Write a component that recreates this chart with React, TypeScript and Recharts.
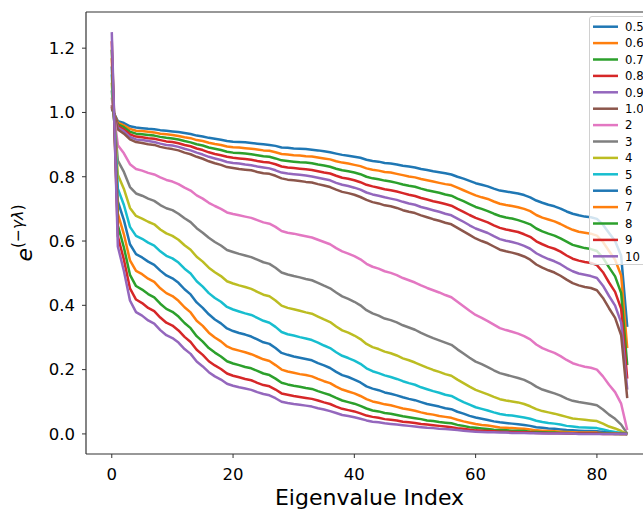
import React from 'react';
import { LineChart, Line, XAxis, YAxis, ReferenceLine } from 'recharts';

const seriesNames = ['0.5', '0.6', '0.7', '0.8', '0.9', '1.0', '2', '3', '4', '5', '6', '7', '8', '9', '10'];
const seriesColors = ['#1f77b4', '#ff7f0e', '#2ca02c', '#d62728', '#9467bd', '#8c564b', '#e377c2', '#7f7f7f', '#bcbd22', '#17becf', '#1f77b4', '#ff7f0e', '#2ca02c', '#d62728', '#9467bd'];
const xTicks = [0, 20, 40, 60, 80];
const yTicks = [0, 0.2, 0.4, 0.6, 0.8, 1.0, 1.2];

const g05 = [1.011, 0.973, 0.967, 0.957, 0.953, 0.951, 0.949, 0.948, 0.945, 0.943, 0.941, 0.939, 0.936, 0.933, 0.928, 0.925, 0.921, 0.918, 0.915, 0.911, 0.909, 0.908, 0.907, 0.905, 0.903, 0.901, 0.899, 0.896, 0.891, 0.890, 0.888, 0.887, 0.886, 0.884, 0.882, 0.879, 0.876, 0.872, 0.868, 0.865, 0.862, 0.859, 0.853, 0.849, 0.847, 0.843, 0.841, 0.838, 0.834, 0.832, 0.829, 0.824, 0.821, 0.817, 0.814, 0.811, 0.807, 0.800, 0.794, 0.787, 0.780, 0.775, 0.770, 0.763, 0.757, 0.754, 0.751, 0.748, 0.743, 0.736, 0.726, 0.719, 0.713, 0.708, 0.701, 0.692, 0.685, 0.680, 0.676, 0.674, 0.669, 0.651, 0.625, 0.600, 0.554, 0.333];
const g06 = [1.014, 0.968, 0.960, 0.949, 0.943, 0.942, 0.940, 0.938, 0.934, 0.932, 0.930, 0.927, 0.923, 0.920, 0.914, 0.911, 0.906, 0.902, 0.899, 0.894, 0.892, 0.891, 0.889, 0.887, 0.885, 0.882, 0.881, 0.876, 0.871, 0.869, 0.867, 0.866, 0.864, 0.863, 0.860, 0.857, 0.854, 0.848, 0.844, 0.841, 0.837, 0.833, 0.826, 0.822, 0.819, 0.815, 0.813, 0.809, 0.805, 0.801, 0.798, 0.793, 0.789, 0.785, 0.781, 0.777, 0.774, 0.766, 0.758, 0.750, 0.742, 0.736, 0.731, 0.723, 0.716, 0.712, 0.709, 0.705, 0.700, 0.693, 0.681, 0.673, 0.667, 0.661, 0.653, 0.643, 0.635, 0.629, 0.626, 0.623, 0.617, 0.597, 0.569, 0.542, 0.493, 0.267];
const g07 = [1.016, 0.963, 0.954, 0.940, 0.934, 0.932, 0.930, 0.928, 0.924, 0.921, 0.919, 0.916, 0.911, 0.907, 0.901, 0.897, 0.891, 0.887, 0.883, 0.878, 0.875, 0.874, 0.872, 0.870, 0.867, 0.864, 0.862, 0.857, 0.851, 0.849, 0.847, 0.845, 0.844, 0.842, 0.838, 0.835, 0.831, 0.825, 0.820, 0.817, 0.813, 0.808, 0.800, 0.795, 0.792, 0.788, 0.785, 0.781, 0.776, 0.772, 0.769, 0.763, 0.758, 0.754, 0.750, 0.745, 0.741, 0.732, 0.724, 0.715, 0.706, 0.700, 0.693, 0.685, 0.678, 0.673, 0.670, 0.665, 0.659, 0.652, 0.639, 0.630, 0.623, 0.617, 0.608, 0.598, 0.588, 0.583, 0.578, 0.575, 0.569, 0.548, 0.518, 0.490, 0.438, 0.214];
const g08 = [1.018, 0.958, 0.947, 0.932, 0.925, 0.923, 0.920, 0.918, 0.914, 0.910, 0.908, 0.904, 0.899, 0.895, 0.888, 0.883, 0.876, 0.871, 0.867, 0.862, 0.859, 0.857, 0.855, 0.853, 0.849, 0.846, 0.844, 0.839, 0.832, 0.829, 0.827, 0.825, 0.823, 0.821, 0.817, 0.813, 0.810, 0.803, 0.797, 0.794, 0.789, 0.783, 0.775, 0.770, 0.766, 0.761, 0.758, 0.754, 0.749, 0.744, 0.740, 0.734, 0.729, 0.724, 0.720, 0.715, 0.710, 0.700, 0.691, 0.681, 0.672, 0.665, 0.658, 0.649, 0.641, 0.636, 0.632, 0.628, 0.621, 0.613, 0.599, 0.590, 0.582, 0.576, 0.567, 0.555, 0.545, 0.539, 0.535, 0.532, 0.525, 0.503, 0.471, 0.442, 0.389, 0.172];
const g09 = [1.020, 0.953, 0.941, 0.924, 0.916, 0.914, 0.911, 0.908, 0.903, 0.899, 0.897, 0.893, 0.887, 0.882, 0.875, 0.869, 0.862, 0.857, 0.852, 0.846, 0.843, 0.841, 0.838, 0.836, 0.832, 0.829, 0.826, 0.820, 0.813, 0.810, 0.808, 0.806, 0.804, 0.801, 0.797, 0.793, 0.789, 0.781, 0.775, 0.771, 0.766, 0.760, 0.751, 0.745, 0.741, 0.736, 0.732, 0.728, 0.722, 0.717, 0.713, 0.706, 0.701, 0.696, 0.691, 0.685, 0.680, 0.670, 0.660, 0.649, 0.639, 0.632, 0.625, 0.615, 0.606, 0.601, 0.597, 0.592, 0.585, 0.576, 0.562, 0.552, 0.544, 0.537, 0.528, 0.516, 0.506, 0.499, 0.495, 0.491, 0.485, 0.461, 0.429, 0.399, 0.346, 0.138];
const g10a = [1.023, 0.947, 0.934, 0.916, 0.908, 0.905, 0.901, 0.899, 0.893, 0.889, 0.886, 0.882, 0.875, 0.870, 0.862, 0.856, 0.848, 0.842, 0.837, 0.830, 0.827, 0.824, 0.822, 0.820, 0.815, 0.811, 0.809, 0.803, 0.795, 0.791, 0.789, 0.787, 0.784, 0.782, 0.777, 0.773, 0.768, 0.760, 0.753, 0.749, 0.744, 0.737, 0.728, 0.721, 0.717, 0.711, 0.708, 0.703, 0.696, 0.691, 0.687, 0.680, 0.674, 0.668, 0.663, 0.657, 0.652, 0.641, 0.630, 0.619, 0.608, 0.600, 0.593, 0.583, 0.573, 0.568, 0.564, 0.559, 0.552, 0.542, 0.527, 0.517, 0.509, 0.502, 0.492, 0.480, 0.469, 0.462, 0.457, 0.454, 0.447, 0.423, 0.391, 0.361, 0.307, 0.111];
const g2 = [1.046, 0.898, 0.873, 0.839, 0.824, 0.819, 0.812, 0.807, 0.798, 0.790, 0.785, 0.777, 0.766, 0.757, 0.742, 0.732, 0.719, 0.709, 0.700, 0.689, 0.684, 0.680, 0.676, 0.672, 0.665, 0.658, 0.654, 0.644, 0.631, 0.626, 0.623, 0.619, 0.615, 0.611, 0.604, 0.597, 0.590, 0.578, 0.568, 0.561, 0.553, 0.543, 0.529, 0.520, 0.514, 0.506, 0.501, 0.494, 0.485, 0.478, 0.471, 0.462, 0.454, 0.447, 0.440, 0.432, 0.425, 0.411, 0.397, 0.383, 0.370, 0.361, 0.351, 0.340, 0.329, 0.323, 0.318, 0.312, 0.304, 0.294, 0.278, 0.267, 0.259, 0.252, 0.242, 0.230, 0.220, 0.214, 0.209, 0.206, 0.200, 0.179, 0.153, 0.130, 0.094, 0.012];
const g3 = [1.069, 0.850, 0.815, 0.768, 0.748, 0.741, 0.732, 0.725, 0.712, 0.702, 0.696, 0.685, 0.671, 0.659, 0.640, 0.626, 0.610, 0.597, 0.586, 0.572, 0.566, 0.560, 0.555, 0.550, 0.542, 0.534, 0.529, 0.517, 0.502, 0.496, 0.491, 0.487, 0.482, 0.478, 0.470, 0.461, 0.453, 0.440, 0.428, 0.420, 0.411, 0.400, 0.385, 0.375, 0.368, 0.359, 0.354, 0.347, 0.338, 0.331, 0.324, 0.314, 0.306, 0.298, 0.291, 0.284, 0.277, 0.263, 0.250, 0.237, 0.225, 0.217, 0.208, 0.198, 0.189, 0.184, 0.179, 0.174, 0.168, 0.159, 0.147, 0.138, 0.132, 0.126, 0.119, 0.110, 0.103, 0.099, 0.096, 0.093, 0.089, 0.076, 0.060, 0.047, 0.029, 0.001];
const g4 = [1.093, 0.806, 0.762, 0.703, 0.678, 0.670, 0.660, 0.652, 0.636, 0.624, 0.616, 0.604, 0.587, 0.573, 0.551, 0.536, 0.517, 0.503, 0.491, 0.475, 0.468, 0.462, 0.457, 0.451, 0.442, 0.433, 0.428, 0.415, 0.399, 0.392, 0.388, 0.383, 0.378, 0.374, 0.365, 0.356, 0.348, 0.334, 0.322, 0.315, 0.306, 0.295, 0.280, 0.270, 0.264, 0.256, 0.251, 0.244, 0.235, 0.229, 0.222, 0.214, 0.206, 0.199, 0.193, 0.186, 0.181, 0.169, 0.158, 0.147, 0.137, 0.130, 0.123, 0.115, 0.108, 0.104, 0.101, 0.098, 0.093, 0.086, 0.077, 0.071, 0.067, 0.063, 0.058, 0.053, 0.048, 0.046, 0.044, 0.042, 0.040, 0.032, 0.023, 0.017, 0.009, 0.000];
const g5 = [1.118, 0.763, 0.712, 0.644, 0.616, 0.607, 0.595, 0.586, 0.568, 0.554, 0.546, 0.533, 0.514, 0.499, 0.475, 0.458, 0.438, 0.423, 0.411, 0.395, 0.387, 0.381, 0.375, 0.370, 0.361, 0.352, 0.346, 0.333, 0.317, 0.310, 0.306, 0.301, 0.297, 0.292, 0.284, 0.275, 0.267, 0.254, 0.243, 0.236, 0.228, 0.218, 0.204, 0.195, 0.189, 0.182, 0.177, 0.171, 0.164, 0.158, 0.153, 0.145, 0.139, 0.133, 0.128, 0.122, 0.118, 0.108, 0.099, 0.091, 0.083, 0.078, 0.073, 0.067, 0.062, 0.059, 0.057, 0.054, 0.051, 0.047, 0.041, 0.037, 0.034, 0.032, 0.029, 0.025, 0.023, 0.021, 0.020, 0.019, 0.018, 0.014, 0.009, 0.006, 0.003, 0.000];
const g6 = [1.143, 0.723, 0.665, 0.590, 0.559, 0.549, 0.536, 0.526, 0.508, 0.493, 0.484, 0.470, 0.450, 0.434, 0.409, 0.392, 0.372, 0.356, 0.344, 0.328, 0.320, 0.314, 0.309, 0.303, 0.294, 0.285, 0.280, 0.267, 0.252, 0.246, 0.241, 0.237, 0.233, 0.229, 0.220, 0.213, 0.205, 0.193, 0.183, 0.177, 0.169, 0.160, 0.148, 0.141, 0.136, 0.129, 0.125, 0.120, 0.114, 0.109, 0.105, 0.099, 0.093, 0.089, 0.085, 0.080, 0.077, 0.069, 0.063, 0.056, 0.051, 0.047, 0.043, 0.039, 0.036, 0.034, 0.032, 0.030, 0.028, 0.025, 0.021, 0.019, 0.017, 0.016, 0.014, 0.012, 0.011, 0.010, 0.009, 0.009, 0.008, 0.006, 0.004, 0.002, 0.001, 0.000];
const g7 = [1.169, 0.685, 0.621, 0.540, 0.507, 0.497, 0.483, 0.473, 0.453, 0.438, 0.429, 0.414, 0.394, 0.378, 0.352, 0.336, 0.315, 0.300, 0.288, 0.272, 0.264, 0.259, 0.254, 0.248, 0.240, 0.232, 0.227, 0.214, 0.200, 0.194, 0.190, 0.186, 0.183, 0.179, 0.171, 0.164, 0.158, 0.147, 0.138, 0.132, 0.126, 0.118, 0.108, 0.101, 0.097, 0.092, 0.089, 0.084, 0.079, 0.076, 0.072, 0.067, 0.063, 0.060, 0.056, 0.053, 0.050, 0.044, 0.039, 0.035, 0.031, 0.028, 0.026, 0.023, 0.020, 0.019, 0.018, 0.017, 0.016, 0.014, 0.011, 0.010, 0.009, 0.008, 0.007, 0.006, 0.005, 0.004, 0.004, 0.004, 0.004, 0.002, 0.001, 0.001, 0.000, 0.000];
const g8 = [1.195, 0.649, 0.580, 0.495, 0.460, 0.449, 0.435, 0.425, 0.405, 0.389, 0.380, 0.365, 0.345, 0.329, 0.304, 0.287, 0.267, 0.253, 0.241, 0.226, 0.219, 0.214, 0.208, 0.204, 0.196, 0.188, 0.183, 0.172, 0.159, 0.154, 0.150, 0.147, 0.143, 0.140, 0.133, 0.127, 0.121, 0.112, 0.104, 0.099, 0.094, 0.087, 0.079, 0.073, 0.070, 0.065, 0.063, 0.059, 0.055, 0.052, 0.049, 0.046, 0.042, 0.040, 0.037, 0.035, 0.033, 0.028, 0.025, 0.021, 0.019, 0.017, 0.015, 0.013, 0.012, 0.011, 0.010, 0.010, 0.009, 0.007, 0.006, 0.005, 0.004, 0.004, 0.003, 0.003, 0.002, 0.002, 0.002, 0.002, 0.002, 0.001, 0.001, 0.000, 0.000, 0.000];
const g9 = [1.222, 0.615, 0.542, 0.453, 0.418, 0.407, 0.392, 0.382, 0.362, 0.346, 0.337, 0.322, 0.302, 0.286, 0.262, 0.246, 0.226, 0.213, 0.202, 0.188, 0.181, 0.176, 0.171, 0.167, 0.159, 0.152, 0.148, 0.138, 0.126, 0.122, 0.118, 0.115, 0.112, 0.109, 0.104, 0.098, 0.093, 0.085, 0.078, 0.074, 0.070, 0.064, 0.057, 0.053, 0.050, 0.046, 0.044, 0.042, 0.038, 0.036, 0.034, 0.031, 0.029, 0.027, 0.025, 0.023, 0.021, 0.018, 0.016, 0.013, 0.011, 0.010, 0.009, 0.008, 0.007, 0.006, 0.006, 0.005, 0.005, 0.004, 0.003, 0.003, 0.002, 0.002, 0.002, 0.001, 0.001, 0.001, 0.001, 0.001, 0.001, 0.000, 0.000, 0.000, 0.000, 0.000];
const g10 = [1.250, 0.583, 0.507, 0.415, 0.379, 0.368, 0.353, 0.343, 0.323, 0.307, 0.298, 0.284, 0.264, 0.249, 0.225, 0.210, 0.192, 0.179, 0.169, 0.156, 0.150, 0.145, 0.141, 0.137, 0.130, 0.124, 0.120, 0.111, 0.100, 0.096, 0.093, 0.091, 0.088, 0.085, 0.080, 0.076, 0.071, 0.065, 0.059, 0.056, 0.052, 0.047, 0.042, 0.038, 0.036, 0.033, 0.031, 0.029, 0.027, 0.025, 0.023, 0.021, 0.019, 0.018, 0.016, 0.015, 0.014, 0.012, 0.010, 0.008, 0.007, 0.006, 0.005, 0.005, 0.004, 0.004, 0.003, 0.003, 0.003, 0.002, 0.002, 0.001, 0.001, 0.001, 0.001, 0.001, 0.001, 0.000, 0.000, 0.000, 0.000, 0.000, 0.000, 0.000, 0.000, 0.000];

const seriesValues = [g05, g06, g07, g08, g09, g10a, g2, g3, g4, g5, g6, g7, g8, g9, g10];

const data = g05.map((_, i) => {
  const row: Record<string, number> = { index: i };
  seriesValues.forEach((arr, k) => {
    row['s' + k] = arr[i];
  });
  return row;
});

const FONT = 'DejaVu Sans, sans-serif';
const AXIS = '#333';

const YLabel = (props: any) => {
  const vb = props.viewBox || {};
  const cy = (vb.y || 0) + (vb.height || 0) / 2;
  const bx = 32;
  return (
    <text
      x={bx}
      y={cy}
      transform={`rotate(-90, ${bx}, ${cy})`}
      textAnchor="middle"
      fontFamily={FONT}
      fill="#000"
      fontSize={22}
    >
      <tspan fontStyle="italic">e</tspan>
      <tspan fontSize={15.5} dy={-9}>(−</tspan>
      <tspan fontSize={15.5} fontStyle="italic">γλ</tspan>
      <tspan fontSize={15.5}>)</tspan>
    </text>
  );
};

const XLabel = (props: any) => {
  const vb = props.viewBox || {};
  const cx = (vb.x || 0) + (vb.width || 0) / 2;
  return (
    <text x={cx} y={505} textAnchor="middle" fontFamily={FONT} fontSize={22} fill="#000">
      Eigenvalue Index
    </text>
  );
};

export default function App() {
  return (
    <div style={{ position: 'absolute', left: 0, top: 0, width: 643, height: 511, overflow: 'hidden', background: '#fff' }}>
      <LineChart width={660} height={511} data={data} margin={{ top: 12, right: 7, bottom: 0, left: 0 }}>
        <XAxis
          type="number"
          dataKey="index"
          domain={[-4.25, 89.25]}
          ticks={xTicks}
          height={57}
          tickSize={4}
          tickMargin={10}
          stroke={AXIS}
          axisLine={{ stroke: AXIS, strokeWidth: 1.2 }}
          tickLine={{ stroke: AXIS, strokeWidth: 1 }}
          tick={{ fill: '#000', fontSize: 16.5, fontFamily: FONT }}
          label={<XLabel />}
        />
        <YAxis
          type="number"
          domain={[-0.0625, 1.3125]}
          ticks={yTicks}
          width={86}
          tickSize={4}
          tickMargin={7}
          tickFormatter={(v: number) => v.toFixed(1)}
          axisLine={{ stroke: AXIS, strokeWidth: 1.2 }}
          tickLine={{ stroke: AXIS, strokeWidth: 1 }}
          tick={{ fill: '#000', fontSize: 16.5, fontFamily: FONT }}
          label={<YLabel />}
        />
        <ReferenceLine y={1.3125} stroke={AXIS} strokeWidth={1.2} />
        {seriesNames.map((name, k) => (
          <Line
            key={name}
            type="linear"
            dataKey={'s' + k}
            name={name}
            stroke={seriesColors[k]}
            strokeWidth={2.5}
            dot={false}
            activeDot={false}
            isAnimationActive={false}
            strokeLinejoin="round"
          />
        ))}
      </LineChart>
      <div
        style={{
          position: 'absolute',
          left: 589,
          top: 16,
          width: 80,
          height: 249,
          boxSizing: 'border-box',
          border: '1px solid #d0d0d0',
          borderRadius: 3,
          background: 'rgba(255,255,255,0.8)',
        }}
      >
        <svg width={80} height={249} style={{ position: 'absolute', left: -1, top: -1 }}>
          {seriesNames.map((name, k) => (
            <g key={name}>
              <line x1={4} x2={29} y1={10.7 + 16.4 * k} y2={10.7 + 16.4 * k} stroke={seriesColors[k]} strokeWidth={2.5} />
              <text x={36} y={10.7 + 16.4 * k} dy="0.36em" fontSize={11.7} fontFamily={FONT} fill="#000">
                {name}
              </text>
            </g>
          ))}
        </svg>
      </div>
    </div>
  );
}
